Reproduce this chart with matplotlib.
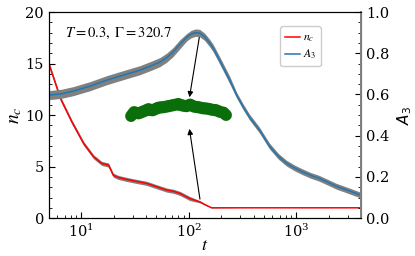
import numpy as np
import matplotlib
matplotlib.use("Agg")
import matplotlib.pyplot as plt
from matplotlib.ticker import MultipleLocator

plt.rcParams['font.family'] = ['DejaVu Serif']
plt.rcParams['mathtext.fontset'] = 'stix'

# A3 (right axis) vs t
tA = np.array([5.06, 6.5, 8.4, 12, 17.4, 25, 35.2, 45, 53.8, 62, 71.1, 82, 95.7, 105, 115,
               126, 140, 155, 167, 185, 206, 240, 278, 320, 367, 454, 562, 680, 808, 950,
               1137, 1350, 1634, 2000, 2345, 3000, 3900])
A3 = np.array([0.597, 0.603, 0.616, 0.640, 0.670, 0.695, 0.718, 0.740, 0.757, 0.778, 0.805,
               0.842, 0.878, 0.893, 0.900, 0.898, 0.880, 0.852, 0.828, 0.785, 0.738, 0.670,
               0.597, 0.540, 0.49, 0.427, 0.350, 0.300, 0.267, 0.245, 0.225, 0.208, 0.193,
               0.172, 0.155, 0.135, 0.113])
A3_err = np.array([0.022] * 12 + [0.018] * 10 + [0.014] * 15)

# n_c (left axis) vs t
tn = np.array([5.06, 6.4, 8.2, 10.5, 13.0, 15.5, 17.9, 19.8, 22, 26.5, 33, 40.6, 50, 62.2,
               72, 82.5, 102, 126.6, 145, 163, 300, 1000, 4000])
nc = np.array([14.8, 11.6, 9.3, 7.25, 5.95, 5.3, 5.15, 4.17, 3.95, 3.75, 3.55, 3.37, 3.05,
               2.72, 2.6, 2.4, 1.9, 1.58, 1.25, 1.0, 1.0, 1.0, 1.0])
nc_err = np.array([0.2] * 17 + [0.1, 0.05, 0.02, 0.0, 0.0, 0.0])

# green curve (left axis units)
tg = np.array([29, 31, 34, 38, 42, 46, 52, 58, 65, 72, 80, 88, 95, 103, 112, 122, 135,
               150, 165, 180, 195, 210, 222])
ng = np.array([9.9, 10.3, 10.15, 10.35, 10.55, 10.45, 10.7, 10.75, 10.85, 10.95, 11.05,
               10.9, 10.85, 11.0, 10.8, 10.75, 10.65, 10.6, 10.5, 10.45, 10.3, 10.25, 10.0])

fig, ax = plt.subplots(figsize=(4.15, 2.56), dpi=100)
fig.subplots_adjust(left=0.118, right=0.87, top=0.953, bottom=0.148)
ax2 = ax.twinx()

ax.fill_between(tn, nc - nc_err, nc + nc_err, color='gray', lw=0)
l1, = ax.plot(tn, nc, color='red', lw=1.1, label='$n_c$')
ax.plot(tg, ng, color='#0a6e0a', lw=8.5, solid_capstyle='round', solid_joinstyle='round')
ax.plot(tg[2:-2], ng[2:-2] + 0.2, color='#0a6e0a', lw=6, solid_capstyle='round')

ax2.fill_between(tA, A3 - A3_err, A3 + A3_err, color='gray', lw=0)
l2, = ax2.plot(tA, A3, color='#1f77b4', lw=1.1, label='$A_3$')

ax.annotate('', xy=(100.4, 11.46), xytext=(126.6, 17.86),
            arrowprops=dict(arrowstyle='-|>', color='k', lw=0.8, mutation_scale=8))
ax.annotate('', xy=(100.4, 8.93), xytext=(128, 1.58),
            arrowprops=dict(arrowstyle='-|>', color='k', lw=0.8, mutation_scale=8))

ax.set_xscale('log')
ax.set_xlim(5, 4000)
ax.set_ylim(0, 20)
ax2.set_ylim(0, 1.0)
ax.yaxis.set_major_locator(MultipleLocator(5))
ax.yaxis.set_minor_locator(MultipleLocator(1))
ax2.yaxis.set_major_locator(MultipleLocator(0.2))
ax2.yaxis.set_minor_locator(MultipleLocator(0.05))
ax2.set_yticks([0, 0.2, 0.4, 0.6, 0.8, 1.0])
ax2.set_yticklabels(['0.0', '0.2', '0.4', '0.6', '0.8', '1.0'])

for a in (ax, ax2):
    a.tick_params(which='both', direction='in', labelsize=10.5)
    a.tick_params(which='major', length=4)
    a.tick_params(which='minor', length=2)
ax2.spines['right'].set_color('gray')
ax2.spines['right'].set_linewidth(1.4)

ax.set_xlabel('$t$', fontsize=13, labelpad=-3)
ax.set_ylabel('$n_c$', fontsize=14, labelpad=1)
ax2.set_ylabel('$A_3$', fontsize=11, labelpad=4, math_fontfamily='dejavusans')

ax.text(0.05, 0.935, r'$T = 0.3,\ \Gamma = 320.7$', transform=ax.transAxes,
        fontsize=10.5, va='top')

ax2.legend(handles=[l1, l2], loc='upper right', bbox_to_anchor=(0.89, 0.96),
           fontsize=8.5, handlelength=1.3, handletextpad=0.2, borderpad=0.4,
           labelspacing=0.3, framealpha=1)

fig.savefig('out.png', dpi=100)
